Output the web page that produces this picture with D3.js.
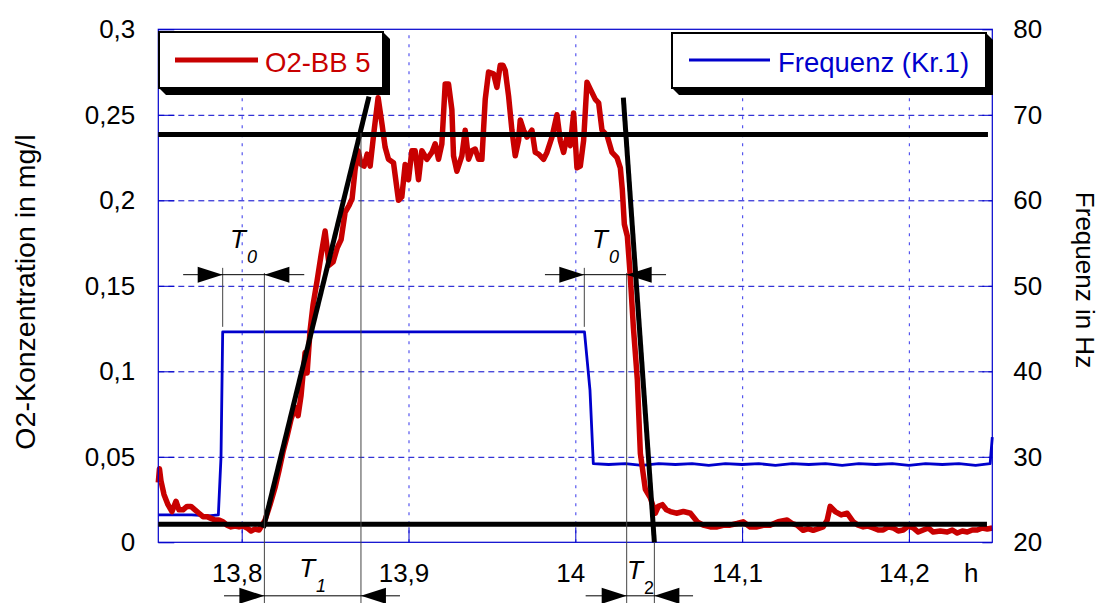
<!DOCTYPE html>
<html>
<head>
<meta charset="utf-8">
<script src="https://cdn.jsdelivr.net/npm/d3@7/dist/d3.min.js"></script>
<style>
  body { margin: 0; background: #fff; }
  svg { display: block; font-family: "Liberation Sans", Arial, sans-serif; }
</style>
</head>
<body>
<svg id="chart" width="1103" height="603"></svg>
<script>
// axes
const xDomain = [13.75, 14.25];
const xTicks = [13.8, 13.9, 14.0, 14.1, 14.2];
const xTickLabels = ["13,8", "13,9", "14", "14,1", "14,2"];
const yLeftTicks = [0, 0.05, 0.1, 0.15, 0.2, 0.25, 0.3];
const yLeftLabels = ["0", "0,05", "0,1", "0,15", "0,2", "0,25", "0,3"];
const yRightTicks = [20, 30, 40, 50, 60, 70, 80];
const yRightLabels = ["20", "30", "40", "50", "60", "70", "80"];

// O2-BB 5 (mg/l) over time (h)
const o2Time = [
  13.7500, 13.7507, 13.7516, 13.7534, 13.7558, 13.7582, 13.7606, 13.7624, 13.7648, 13.7672,
  13.7696, 13.7720, 13.7744, 13.7768, 13.7792, 13.7816, 13.7840, 13.7864, 13.7888, 13.7912,
  13.7936, 13.7960, 13.7984, 13.8008, 13.8032, 13.8056, 13.8080, 13.8104, 13.8122, 13.8140,
  13.8170, 13.8200, 13.8224, 13.8248, 13.8272, 13.8296, 13.8320, 13.8338, 13.8356, 13.8380,
  13.8392, 13.8410, 13.8428, 13.8452, 13.8476, 13.8500, 13.8524, 13.8548, 13.8572, 13.8596,
  13.8620, 13.8644, 13.8662, 13.8680, 13.8698, 13.8716, 13.8734, 13.8752, 13.8770, 13.8794,
  13.8818, 13.8842, 13.8860, 13.8880, 13.8910, 13.8940, 13.8960, 13.8980, 13.9000, 13.9020,
  13.9040, 13.9060, 13.9080, 13.9110, 13.9140, 13.9160, 13.9180, 13.9200, 13.9220, 13.9240,
  13.9260, 13.9270, 13.9290, 13.9320, 13.9340, 13.9360, 13.9380, 13.9400, 13.9420, 13.9440,
  13.9460, 13.9480, 13.9510, 13.9530, 13.9550, 13.9566, 13.9580, 13.9600, 13.9620, 13.9640,
  13.9660, 13.9670, 13.9690, 13.9710, 13.9740, 13.9760, 13.9780, 13.9810, 13.9830, 13.9860,
  13.9890, 13.9910, 13.9930, 13.9950, 13.9970, 13.9990, 14.0010, 14.0030, 14.0050, 14.0070,
  14.0090, 14.0120, 14.0140, 14.0160, 14.0190, 14.0220, 14.0250, 14.0270, 14.0282, 14.0294,
  14.0312, 14.0330, 14.0348, 14.0372, 14.0390, 14.0420, 14.0450, 14.0480, 14.0498, 14.0522,
  14.0546, 14.0570, 14.0606, 14.0648, 14.0690, 14.0731, 14.0767, 14.0809, 14.0851, 14.0893,
  14.0928, 14.0970, 14.1006, 14.1048, 14.1090, 14.1132, 14.1168, 14.1216, 14.1270, 14.1300,
  14.1330, 14.1366, 14.1396, 14.1426, 14.1456, 14.1486, 14.1510, 14.1528, 14.1558, 14.1594,
  14.1630, 14.1666, 14.1696, 14.1726, 14.1756, 14.1786, 14.1816, 14.1846, 14.1876, 14.1906,
  14.1936, 14.1966, 14.1996, 14.2026, 14.2056, 14.2086, 14.2116, 14.2146, 14.2188, 14.2230,
  14.2260, 14.2290, 14.2320, 14.2350, 14.2380, 14.2410, 14.2440, 14.2470, 14.2500
];
const o2Value = [
  0.035, 0.043, 0.036, 0.028, 0.022, 0.018, 0.024, 0.019, 0.019, 0.021,
  0.021, 0.019, 0.017, 0.015, 0.015, 0.014, 0.013, 0.013, 0.012, 0.010,
  0.009, 0.0095, 0.009, 0.0095, 0.0084, 0.0066, 0.0078, 0.0072, 0.010, 0.013,
  0.022, 0.032, 0.042, 0.053, 0.062, 0.072, 0.079, 0.074, 0.086, 0.111,
  0.099, 0.124, 0.139, 0.153, 0.168, 0.182, 0.162, 0.164, 0.172, 0.177,
  0.193, 0.197, 0.201, 0.218, 0.229, 0.221, 0.220, 0.227, 0.220, 0.241,
  0.260, 0.244, 0.231, 0.224, 0.222, 0.200, 0.202, 0.221, 0.212, 0.229,
  0.229, 0.212, 0.229, 0.224, 0.228, 0.233, 0.224, 0.233, 0.268, 0.268,
  0.253, 0.226, 0.217, 0.226, 0.241, 0.224, 0.229, 0.230, 0.224, 0.224,
  0.259, 0.275, 0.274, 0.266, 0.279, 0.279, 0.276, 0.261, 0.241, 0.226,
  0.235, 0.247, 0.241, 0.237, 0.241, 0.228, 0.227, 0.224, 0.228, 0.237,
  0.250, 0.235, 0.228, 0.237, 0.232, 0.251, 0.219, 0.220, 0.235, 0.269,
  0.265, 0.259, 0.257, 0.241, 0.238, 0.228, 0.225, 0.219, 0.206, 0.186,
  0.179, 0.155, 0.126, 0.095, 0.052, 0.031, 0.026, 0.017, 0.021, 0.022,
  0.019, 0.018, 0.017, 0.018, 0.017, 0.012, 0.010, 0.009, 0.009, 0.010,
  0.010, 0.011, 0.012, 0.009, 0.009, 0.010, 0.010, 0.012, 0.013, 0.011,
  0.010, 0.007, 0.008, 0.007, 0.008, 0.009, 0.013, 0.021, 0.018, 0.016,
  0.017, 0.012, 0.010, 0.009, 0.0095, 0.0084, 0.0072, 0.0072, 0.009, 0.0084,
  0.0066, 0.0072, 0.0095, 0.0084, 0.006, 0.0072, 0.0084, 0.006, 0.0066, 0.006,
  0.0072, 0.0054, 0.0066, 0.006, 0.0072, 0.0072, 0.0084, 0.0078, 0.0084
];

// Frequenz (Kr.1) in Hz over time (h)
const freqTime = [
  13.7500, 13.7600, 13.7700, 13.7800, 13.7860, 13.7876, 13.7886,
  14.0055, 14.0088, 14.0108, 14.0200, 14.0300, 14.0400, 14.0500, 14.0600,
  14.0700, 14.0800, 14.0900, 14.1000, 14.1100, 14.1200, 14.1300, 14.1400,
  14.1500, 14.1600, 14.1700, 14.1800, 14.1900, 14.2000, 14.2100, 14.2200,
  14.2300, 14.2400, 14.2487, 14.2500
];
const freqValue = [
  23.2, 23.2, 23.2, 23.1, 23.2, 30.0, 44.6,
  44.6, 37.8, 29.2, 29.1, 29.2, 29.0, 29.2, 29.1,
  29.2, 29.0, 29.2, 29.1, 29.2, 29.0, 29.2, 29.1,
  29.2, 29.0, 29.2, 29.1, 29.2, 29.0, 29.2, 29.1,
  29.2, 29.0, 29.2, 32.3
];

// evaluation construction (left-axis units)
const levelValue = [0.2385, 0.0105];
const levelEnd = [14.2474, 14.2468];
const tangentStart = [[13.8130, 0.0084], [14.0288, 0.2600]];
const tangentEnd = [[13.8763, 0.2606], [14.0474, 0.0]];
const guideTime = [13.7886, 13.8136, 13.8715, 14.0054, 14.0308, 14.0474];
const guideTop = [0.1605, 0.1575, 0.2394, 0.1605, 0.1575, 0.0];
const guideBottom = [0.126, -0.0355, -0.0355, 0.126, -0.0355, -0.0355];

// dimension arrows: line extent, tip positions, level
const dimNames = ["0", "0", "1", "2"];
const dimLine = [[13.7649, 13.8375], [13.9818, 14.0544], [13.7894, 13.8949], [14.0062, 14.0706]];
const dimTips = [[13.7886, 13.8136], [14.0054, 14.0308], [13.8136, 13.8715], [14.0308, 14.0474]];
const dimLevel = [0.1565, 0.1565, -0.0313, -0.0313];

const margin = { top: 29.3, left: 158.3, right: 110.7, bottom: 60.7 };
const W = 1103, H = 603;
const w = W - margin.left - margin.right;
const h = H - margin.top - margin.bottom;

const BLUE = "#0000cc", RED = "#c80000";

const svg = d3.select("#chart");
const g = svg.append("g").attr("transform", `translate(${margin.left},${margin.top})`);

const x = d3.scaleLinear().domain(xDomain).range([0, w]);
const yL = d3.scaleLinear().domain([0, 0.3]).range([h, 0]);
const yR = d3.scaleLinear().domain([20, 80]).range([h, 0]);

// grid
g.append("g")
  .call(d3.axisLeft(yL).tickValues(yLeftTicks.slice(1, -1)).tickSize(-w).tickFormat(""))
  .call(s => s.select(".domain").remove())
  .selectAll("line")
  .attr("stroke", BLUE).attr("stroke-width", 1).attr("stroke-dasharray", "6,4");

g.append("g")
  .attr("transform", `translate(0,${h})`)
  .call(d3.axisBottom(x).tickValues(xTicks).tickSize(-h).tickFormat(""))
  .call(s => s.select(".domain").remove())
  .selectAll("line")
  .attr("stroke", "#5555ee").attr("stroke-width", 1.2).attr("stroke-dasharray", "3,6");

// inner ticks
g.append("g")
  .call(d3.axisLeft(yL).tickValues(yLeftTicks).tickSize(-16).tickFormat(""))
  .call(s => s.select(".domain").remove())
  .selectAll("line").attr("stroke", BLUE);
g.append("g")
  .attr("transform", `translate(${w},0)`)
  .call(d3.axisRight(yR).tickValues(yRightTicks).tickSize(-10).tickFormat(""))
  .call(s => s.select(".domain").remove())
  .selectAll("line").attr("stroke", BLUE);
g.append("g")
  .attr("transform", `translate(0,${h})`)
  .call(d3.axisBottom(x).tickValues(xTicks).tickSize(-15).tickFormat(""))
  .call(s => s.select(".domain").remove())
  .selectAll("line").attr("stroke", BLUE);

// tick labels
g.append("g")
  .call(d3.axisLeft(yL).tickValues(yLeftTicks).tickSize(0).tickPadding(23)
    .tickFormat((d, i) => yLeftLabels[i]))
  .call(s => s.select(".domain").remove())
  .selectAll("text")
  .attr("fill", "#000").style("font-size", "26px").style("font-family", "Liberation Sans, Arial, sans-serif");

g.append("g")
  .attr("transform", `translate(${w},0)`)
  .call(d3.axisRight(yR).tickValues(yRightTicks).tickSize(0).tickPadding(21)
    .tickFormat((d, i) => yRightLabels[i]))
  .call(s => s.select(".domain").remove())
  .selectAll("text")
  .attr("fill", "#000").style("font-size", "26px").style("font-family", "Liberation Sans, Arial, sans-serif");

g.append("g")
  .attr("transform", `translate(0,${h})`)
  .call(d3.axisBottom(x).tickValues(xTicks).tickSize(0).tickPadding(21)
    .tickFormat((d, i) => xTickLabels[i]))
  .call(s => s.select(".domain").remove())
  .selectAll("text")
  .attr("dx", -5)
  .attr("fill", "#000").style("font-size", "26px").style("font-family", "Liberation Sans, Arial, sans-serif");

g.append("text")
  .attr("x", w - 21).attr("y", h + 40)
  .attr("text-anchor", "middle")
  .style("font-size", "26px")
  .text("h");

// axis titles
svg.append("text")
  .attr("transform", `translate(35,292) rotate(-90)`)
  .attr("text-anchor", "middle")
  .style("font-size", "28.5px")
  .text("O2-Konzentration in mg/l");

svg.append("text")
  .attr("transform", `translate(1076,280) rotate(90)`)
  .attr("text-anchor", "middle")
  .style("font-size", "26px")
  .text("Frequenz in Hz");

// series
const freqData = freqTime.map((t, i) => [t, freqValue[i]]);
const o2Data = o2Time.map((t, i) => [t, o2Value[i]]);

g.append("path")
  .datum(freqData)
  .attr("fill", "none").attr("stroke", BLUE).attr("stroke-width", 2.8)
  .attr("stroke-linejoin", "round")
  .attr("d", d3.line().x(d => x(d[0])).y(d => yR(d[1])));

g.append("path")
  .datum(o2Data)
  .attr("fill", "none").attr("stroke", RED).attr("stroke-width", 5.5)
  .attr("stroke-linejoin", "round")
  .attr("d", d3.line().x(d => x(d[0])).y(d => yL(d[1])));

// frame
g.append("rect")
  .attr("width", w).attr("height", h)
  .attr("fill", "none").attr("stroke", BLUE).attr("stroke-width", 1.2);

// level lines and tangents
levelValue.forEach((v, i) => {
  g.append("line")
    .attr("x1", x(xDomain[0])).attr("x2", x(levelEnd[i]))
    .attr("y1", yL(v)).attr("y2", yL(v))
    .attr("stroke", "#000").attr("stroke-width", 5);
});
tangentStart.forEach((p, i) => {
  g.append("line")
    .attr("x1", x(p[0])).attr("y1", yL(p[1]))
    .attr("x2", x(tangentEnd[i][0])).attr("y2", yL(tangentEnd[i][1]))
    .attr("stroke", "#000").attr("stroke-width", 5);
});

// thin guide lines
guideTime.forEach((t, i) => {
  g.append("line")
    .attr("x1", x(t)).attr("x2", x(t))
    .attr("y1", yL(guideTop[i])).attr("y2", yL(guideBottom[i]))
    .attr("stroke", "#444").attr("stroke-width", 1);
});

// dimension arrows with T labels
const labelOffset = [27, 27, 19, 17];
const subItalic = [true, true, true, false];
dimLine.forEach((seg, i) => {
  const yy = yL(dimLevel[i]);
  g.append("line")
    .attr("x1", x(seg[0])).attr("x2", x(seg[1]))
    .attr("y1", yy).attr("y2", yy)
    .attr("stroke", "#000").attr("stroke-width", 1);
  const a = x(dimTips[i][0]), b = x(dimTips[i][1]);
  g.append("path")
    .attr("d", `M${a},${yy} L${a - 25},${yy - 8} L${a - 25},${yy + 8} Z`)
    .attr("fill", "#000");
  g.append("path")
    .attr("d", `M${b},${yy} L${b + 25},${yy - 8} L${b + 25},${yy + 8} Z`)
    .attr("fill", "#000");
  const t = g.append("text")
    .attr("x", (a + b) / 2).attr("y", yy - labelOffset[i])
    .attr("text-anchor", "middle")
    .style("font-size", "26px");
  t.append("tspan").style("font-style", "italic").text("T");
  t.append("tspan")
    .attr("dy", 15).attr("dx", 1)
    .style("font-size", "18px")
    .style("font-style", subItalic[i] ? "italic" : "normal")
    .text(dimNames[i]);
});

// legends
function legend(x0, y0, x1, y1, color, lw, lineX0, lineX1, textX, label) {
  const d = 7;
  svg.append("path")
    .attr("d", `M${x0},${y1} L${x0 + d},${y1 + d} L${x1 + d},${y1 + d} L${x1 + d},${y0 + d} L${x1},${y0} Z`)
    .attr("fill", "#000");
  svg.append("rect")
    .attr("x", x0).attr("y", y0).attr("width", x1 - x0).attr("height", y1 - y0)
    .attr("fill", "#fff").attr("stroke", "#000").attr("stroke-width", 2);
  svg.append("line")
    .attr("x1", lineX0).attr("x2", lineX1).attr("y1", 60).attr("y2", 60)
    .attr("stroke", color).attr("stroke-width", lw);
  svg.append("text")
    .attr("x", textX).attr("y", 71.5)
    .attr("fill", color)
    .style("font-size", "27.5px")
    .text(label);
}
legend(159, 32, 383, 88, RED, 5, 175, 258, 265, "O2-BB 5");
legend(672, 33, 986, 88, BLUE, 3, 689, 770, 778, "Frequenz (Kr.1)");
</script>
</body>
</html>
